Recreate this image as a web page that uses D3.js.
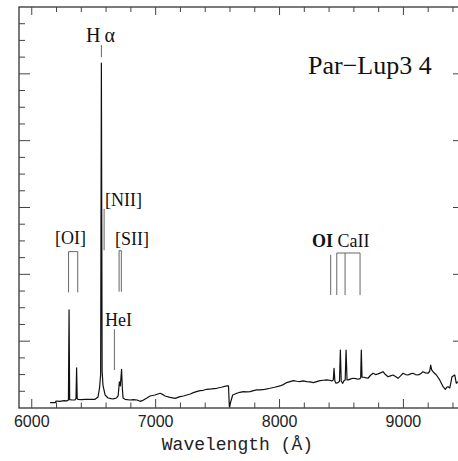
<!DOCTYPE html>
<html>
<head>
<meta charset="utf-8">
<script src="https://cdn.jsdelivr.net/npm/d3@7"></script>
<style>
  body { margin: 0; background: #fff; }
</style>
</head>
<body>
<div id="chart"></div>
<script>
// spectrum: wavelength (A) and relative flux
const wavelength = [
  6148, 6192, 6196, 6228, 6260, 6285, 6296, 6301, 6306, 6325,
  6349, 6357, 6362, 6367, 6374, 6400, 6430, 6470, 6511, 6535,
  6547, 6556, 6562, 6568, 6575, 6582, 6592, 6616, 6640, 6656,
  6672, 6684, 6697, 6703, 6707, 6715, 6725, 6731, 6737, 6753,
  6793, 6820, 6850, 6874, 6898, 6930, 6955, 6995, 7036, 7060,
  7076, 7116, 7157, 7197, 7225, 7251, 7280, 7304, 7330, 7358,
  7385, 7412, 7450, 7493, 7530, 7574, 7588, 7595, 7606, 7622,
  7655, 7680, 7708, 7735, 7762, 7790, 7816, 7843, 7880, 7923,
  7960, 8004, 8030, 8058, 8085, 8111, 8140, 8165, 8190, 8219,
  8245, 8273, 8300, 8327, 8355, 8381, 8405, 8421, 8434, 8440,
  8447, 8456, 8472, 8484, 8491, 8498, 8510, 8521, 8530, 8537,
  8545, 8555, 8575, 8596, 8615, 8633, 8649, 8655, 8660, 8666,
  8681, 8700, 8714, 8735, 8755, 8775, 8795, 8815, 8835, 8855,
  8876, 8895, 8916, 8936, 8956, 8977, 8997, 9017, 9037, 9057,
  9077, 9097, 9118, 9138, 9158, 9178, 9198, 9212, 9220, 9228,
  9239, 9266, 9293, 9320, 9338, 9350, 9360, 9374, 9385, 9392,
  9414, 9427, 9440
];
const flux = [
  0.08, 0.08, 0.105, 0.10, 0.11, 0.108, 0.12, 1.47, 0.125, 0.12,
  0.12, 0.14, 0.60, 0.14, 0.127, 0.125, 0.13, 0.128, 0.13, 0.165,
  0.30, 0.50, 5.16, 0.55, 0.34, 0.28, 0.195, 0.15, 0.14, 0.135,
  0.145, 0.15, 0.18, 0.30, 0.39, 0.33, 0.58, 0.30, 0.15, 0.13,
  0.12, 0.125, 0.12, 0.10, 0.115, 0.15, 0.18, 0.195, 0.22, 0.20,
  0.18, 0.16, 0.145, 0.17, 0.18, 0.195, 0.21, 0.23, 0.245, 0.26,
  0.265, 0.28, 0.285, 0.295, 0.31, 0.33, 0.33, 0.02, 0.094, 0.195,
  0.22, 0.235, 0.245, 0.24, 0.245, 0.26, 0.27, 0.27, 0.28, 0.295,
  0.31, 0.33, 0.35, 0.38, 0.395, 0.41, 0.40, 0.395, 0.405, 0.395,
  0.39, 0.38, 0.395, 0.41, 0.415, 0.42, 0.415, 0.405, 0.42, 0.594,
  0.40, 0.37, 0.38, 0.40, 0.868, 0.40, 0.37, 0.41, 0.42, 0.868,
  0.42, 0.42, 0.435, 0.445, 0.44, 0.43, 0.44, 0.45, 0.868, 0.46,
  0.46, 0.45, 0.445, 0.49, 0.52, 0.50, 0.51, 0.525, 0.543, 0.50,
  0.468, 0.48, 0.494, 0.47, 0.444, 0.48, 0.52, 0.50, 0.494, 0.51,
  0.52, 0.50, 0.494, 0.51, 0.543, 0.525, 0.52, 0.55, 0.643, 0.57,
  0.543, 0.494, 0.42, 0.319, 0.28, 0.31, 0.319, 0.30, 0.40, 0.468,
  0.494, 0.37, 0.394
];

const xTicks = [6000, 7000, 8000, 9000];
const xTickLabels = ["6000", "7000", "8000", "9000"];

// line identifications: marker wavelengths, bottom and top flux of the marks
const lineMarks = [
  { name: "Ha",   lam: [6562],             lo: 5.25, hi: 5.43, bracket: false },
  { name: "NII",  lam: [6584],             lo: 2.36, hi: 2.98, bracket: false },
  { name: "OI6300", lam: [6297, 6371],     lo: 1.73, hi: 2.34, bracket: true },
  { name: "SII",  lam: [6705, 6723],       lo: 1.74, hi: 2.354, bracket: true },
  { name: "HeI",  lam: [6667],             lo: 0.569, hi: 1.178, bracket: false },
  { name: "OI8446", lam: [8413],           lo: 1.69, hi: 2.29, bracket: false },
  { name: "CaII", lam: [8462, 8529, 8650], lo: 1.69, hi: 2.319, bracket: true }
];
const lineLabels = [
  { text: "H\u2009\u03b1", lam: 6555, f: 5.48, anchor: "middle", size: 20 },
  { text: "[NII]", lam: 6592, f: 3.02, anchor: "start", size: 18 },
  { text: "[OI]", lam: 6188, f: 2.45, anchor: "start", size: 18 },
  { text: "[SII]", lam: 6672, f: 2.44, anchor: "start", size: 18 },
  { text: "HeI", lam: 6592, f: 1.23, anchor: "start", size: 18 }
];

const W = 458, H = 461;
const margin = { top: 7, right: -6, bottom: 53, left: 19 },
  width = W - margin.left - margin.right,
  height = H - margin.top - margin.bottom;

const svg = d3.select("#chart")
  .append("svg")
  .attr("width", W)
  .attr("height", H)
  .append("g")
  .attr("transform", `translate(${margin.left},${margin.top})`);

const x = d3.scaleLinear()
  .domain([5897, 9489])
  .range([0, width]);

const y = d3.scaleLinear()
  .domain([0, 6])
  .range([height, 0]);

const minorX = d3.range(6000, 9489, 200);
const minorY = d3.range(0.25, 6, 0.25);

// frame
svg.append("rect")
  .attr("width", width)
  .attr("height", height)
  .attr("fill", "none")
  .attr("stroke", "#333")
  .attr("stroke-width", 1.3);

const tickColor = "#444";
// bottom / top ticks (pointing inward)
svg.append("g")
  .selectAll("line")
  .data(minorX)
  .join("line")
  .attr("x1", d => x(d)).attr("x2", d => x(d))
  .attr("y1", height)
  .attr("y2", d => height - (d % 1000 === 0 ? 9 : 5.5))
  .attr("stroke", tickColor);
svg.append("g")
  .selectAll("line")
  .data(minorX)
  .join("line")
  .attr("x1", d => x(d)).attr("x2", d => x(d))
  .attr("y1", 0)
  .attr("y2", d => d % 1000 === 0 ? 8 : 5)
  .attr("stroke", tickColor);
// left / right ticks
svg.append("g")
  .selectAll("line")
  .data(minorY)
  .join("line")
  .attr("y1", d => y(d)).attr("y2", d => y(d))
  .attr("x1", 0)
  .attr("x2", d => d % 1 === 0 ? 11 : 6)
  .attr("stroke", tickColor);
svg.append("g")
  .selectAll("line")
  .data(minorY)
  .join("line")
  .attr("y1", d => y(d)).attr("y2", d => y(d))
  .attr("x1", width)
  .attr("x2", d => width - (d % 1 === 0 ? 11 : 6))
  .attr("stroke", tickColor);

// tick labels
svg.append("g")
  .selectAll("text")
  .data(xTicks)
  .join("text")
  .attr("x", d => x(d))
  .attr("y", height + 19)
  .attr("text-anchor", "middle")
  .style("font-family", "Liberation Sans, Arial, sans-serif")
  .style("font-size", "16px")
  .attr("fill", "#222")
  .text((d, i) => xTickLabels[i]);

// axis title
svg.append("text")
  .attr("x", x(7660))
  .attr("y", height + 42)
  .attr("text-anchor", "middle")
  .style("font-family", "Liberation Mono, Courier New, monospace")
  .style("font-size", "18px")
  .attr("fill", "#222")
  .text("Wavelength (\u00c5)");

// spectrum
const spectrum = wavelength.map((w, i) => [w, flux[i]]);
svg.append("path")
  .datum(spectrum)
  .attr("fill", "none")
  .attr("stroke", "#111")
  .attr("stroke-width", 1.2)
  .attr("stroke-linejoin", "round")
  .attr("d", d3.line().x(d => x(d[0])).y(d => y(d[1])));

// line identification marks
const marks = svg.append("g")
  .attr("stroke", "#666")
  .attr("stroke-width", 1)
  .attr("fill", "none");
lineMarks.forEach(m => {
  m.lam.forEach(l => {
    marks.append("line")
      .attr("x1", x(l)).attr("x2", x(l))
      .attr("y1", y(m.lo)).attr("y2", y(m.hi));
  });
  if (m.bracket) {
    marks.append("line")
      .attr("x1", x(m.lam[0])).attr("x2", x(m.lam[m.lam.length - 1]))
      .attr("y1", y(m.hi)).attr("y2", y(m.hi));
  }
});

const serif = "Liberation Serif, Times New Roman, serif";
svg.append("g")
  .selectAll("text")
  .data(lineLabels)
  .join("text")
  .attr("x", d => x(d.lam))
  .attr("y", d => y(d.f))
  .attr("text-anchor", d => d.anchor)
  .style("font-family", serif)
  .style("font-size", d => d.size + "px")
  .attr("fill", "#111")
  .text(d => d.text);

// OI / CaII label, OI drawn heavier as in the original
const caLabel = svg.append("text")
  .attr("x", x(8262))
  .attr("y", y(2.41))
  .style("font-family", serif)
  .style("font-size", "18px")
  .attr("fill", "#111");
caLabel.append("tspan").style("font-weight", "bold").text("OI");
caLabel.append("tspan").text(" CaII");

// object name
svg.append("text")
  .attr("x", x(8230))
  .attr("y", y(5.0))
  .style("font-family", serif)
  .style("font-size", "26px")
  .attr("fill", "#111")
  .text("Par\u2212Lup3 4");
</script>
</body>
</html>
